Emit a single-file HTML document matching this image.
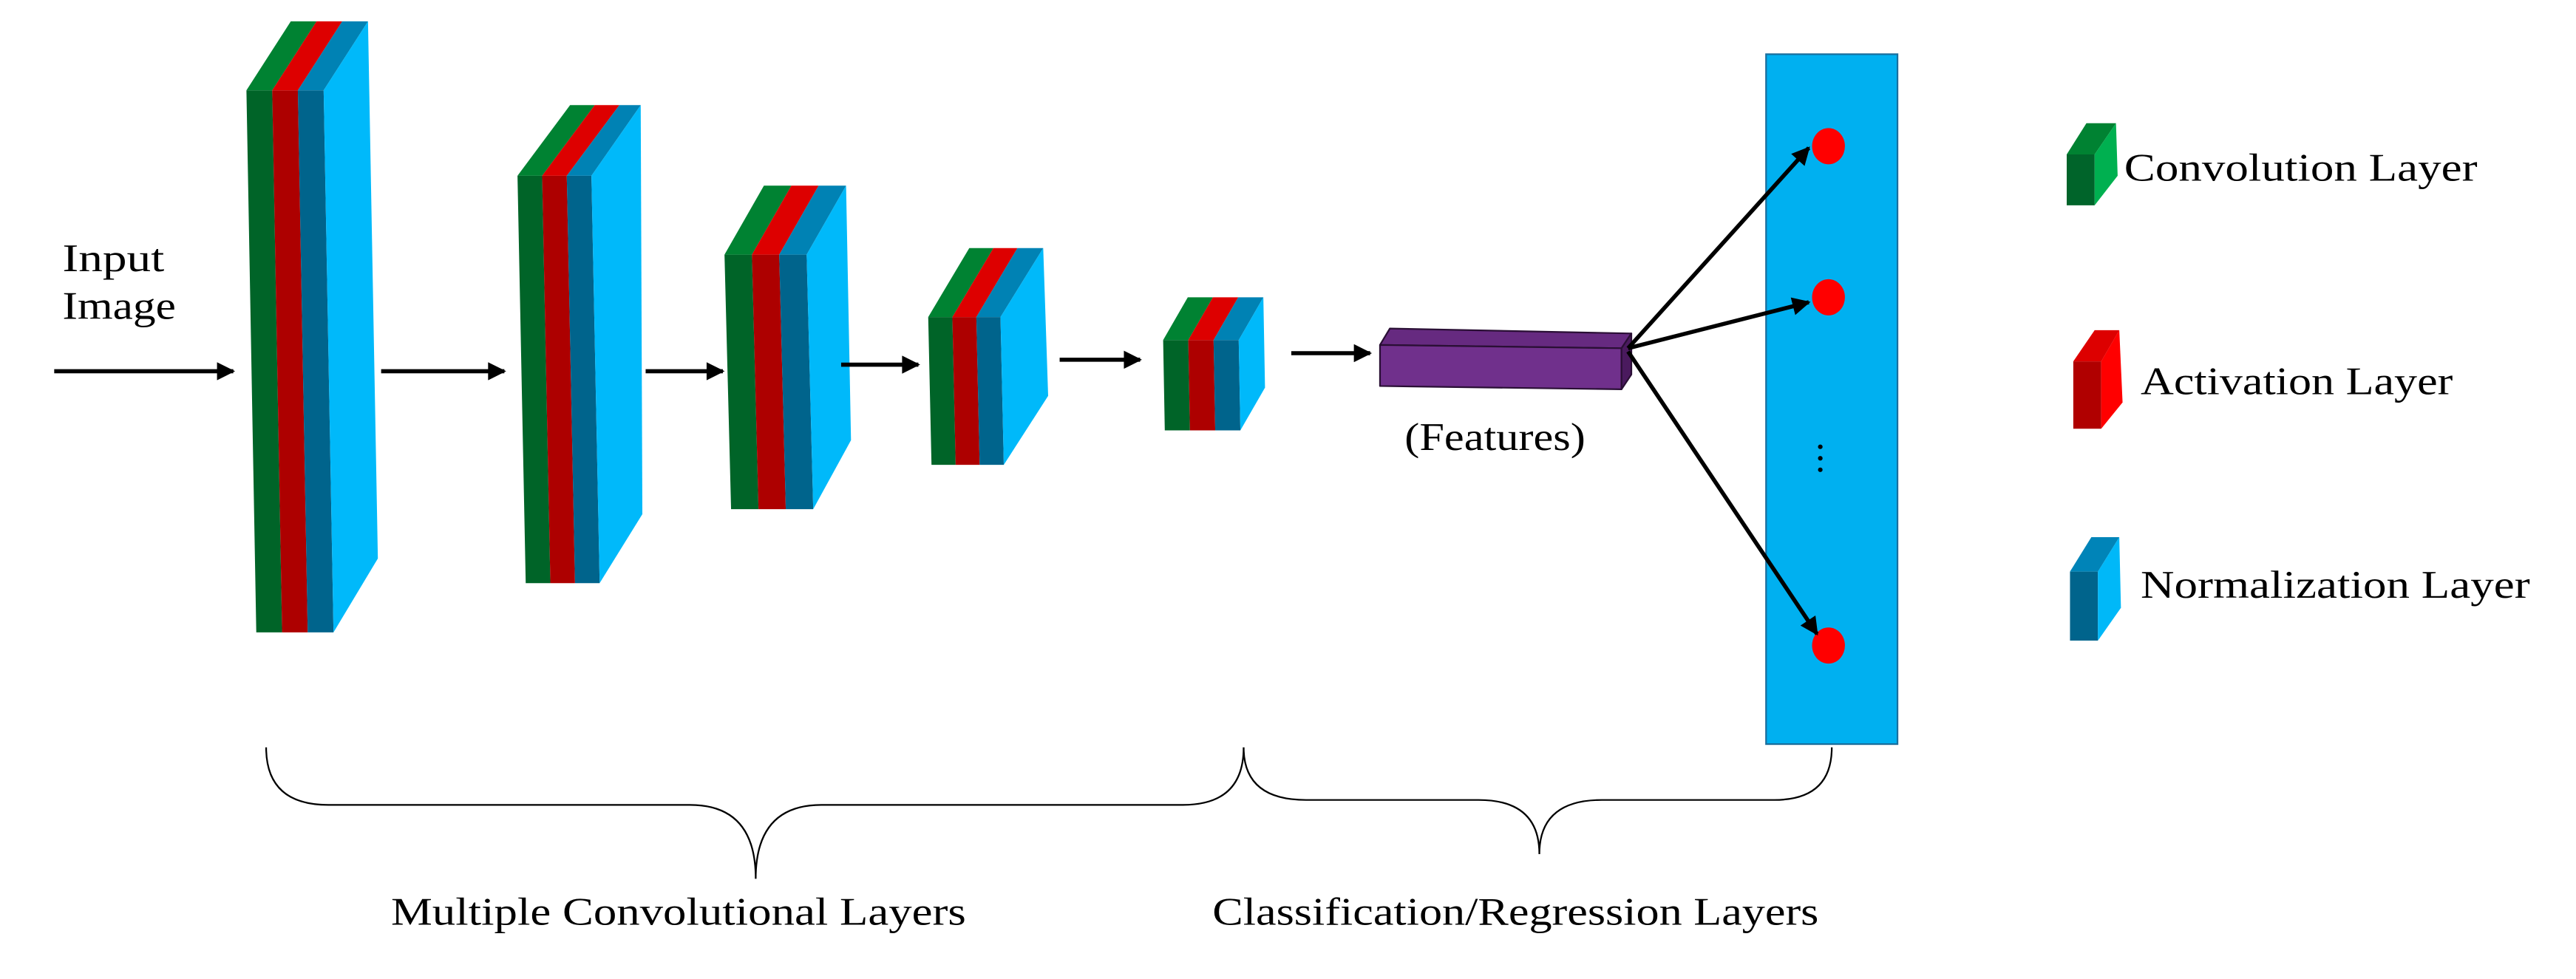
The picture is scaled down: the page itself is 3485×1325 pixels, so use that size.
<!DOCTYPE html>
<html><head><meta charset="utf-8"><style>
html,body{margin:0;padding:0;background:#fff;}
svg{display:block;}
text{font-family:"Liberation Serif",serif;fill:#000;}
</style></head><body>
<svg width="3485" height="1325" viewBox="0 0 1568 596" preserveAspectRatio="none" xmlns="http://www.w3.org/2000/svg">
<defs>
<marker id="ah" viewBox="0 0 10 10" refX="9" refY="5" markerWidth="5" markerHeight="4.4" orient="auto" markerUnits="strokeWidth">
<path d="M0,0 L10,5 L0,10 Z" fill="#000"/></marker>
</defs>
<rect width="1568" height="596" fill="#fff"/>

<text x="38" y="165" font-size="24" textLength="62" lengthAdjust="spacingAndGlyphs">Input</text>
<text x="38" y="194" font-size="24" textLength="69" lengthAdjust="spacingAndGlyphs">Image</text>
<line x1="33" y1="226" x2="142" y2="226" stroke="#000" stroke-width="2.5" marker-end="url(#ah)"/>

<g>
<polygon points="150,55 165.7,55 171.7,385 156,385" fill="#006428"/>
<polygon points="165.7,55 181.3,55 187.3,385 171.7,385" fill="#ad0000"/>
<polygon points="181.3,55 197,55 203,385 187.3,385" fill="#00648c"/>
<polygon points="150,55 177,13 192.7,13 165.7,55" fill="#008232"/>
<polygon points="165.7,55 192.7,13 208.3,13 181.3,55" fill="#dd0000"/>
<polygon points="181.3,55 208.3,13 224,13 197,55" fill="#0082b4"/>
<polygon points="197,55 224,13 230,340 203,385" fill="#00b9fa"/>
</g>
<line x1="232" y1="226" x2="307" y2="226" stroke="#000" stroke-width="2.5" marker-end="url(#ah)"/>

<g>
<polygon points="315,107 330,107 335,355 320,355" fill="#006428"/>
<polygon points="330,107 345,107 350,355 335,355" fill="#ad0000"/>
<polygon points="345,107 360,107 365,355 350,355" fill="#00648c"/>
<polygon points="315,107 347,64 362,64 330,107" fill="#008232"/>
<polygon points="330,107 362,64 377,64 345,107" fill="#dd0000"/>
<polygon points="345,107 377,64 390,64 360,107" fill="#0082b4"/>
<polygon points="360,107 390,64 391,313 365,355" fill="#00b9fa"/>
</g>
<line x1="393" y1="226" x2="440" y2="226" stroke="#000" stroke-width="2.5" marker-end="url(#ah)"/>

<g>
<polygon points="441,155 457.7,155 461.7,310 445,310" fill="#006428"/>
<polygon points="457.7,155 474.3,155 478.3,310 461.7,310" fill="#ad0000"/>
<polygon points="474.3,155 491,155 495,310 478.3,310" fill="#00648c"/>
<polygon points="441,155 465,113 481.7,113 457.7,155" fill="#008232"/>
<polygon points="457.7,155 481.7,113 498.3,113 474.3,155" fill="#dd0000"/>
<polygon points="474.3,155 498.3,113 515,113 491,155" fill="#0082b4"/>
<polygon points="491,155 515,113 518,268 495,310" fill="#00b9fa"/>
</g>
<line x1="512" y1="222" x2="559" y2="222" stroke="#000" stroke-width="2.5" marker-end="url(#ah)"/>

<g>
<polygon points="565,193 579.7,193 581.7,283 567,283" fill="#006428"/>
<polygon points="579.7,193 594.3,193 596.3,283 581.7,283" fill="#ad0000"/>
<polygon points="594.3,193 609,193 611,283 596.3,283" fill="#00648c"/>
<polygon points="565,193 590,151 604.7,151 579.7,193" fill="#008232"/>
<polygon points="579.7,193 604.7,151 619.3,151 594.3,193" fill="#dd0000"/>
<polygon points="594.3,193 619.3,151 635,151 609,193" fill="#0082b4"/>
<polygon points="609,193 635,151 638,241 611,283" fill="#00b9fa"/>
</g>
<line x1="645" y1="219" x2="694" y2="219" stroke="#000" stroke-width="2.5" marker-end="url(#ah)"/>

<g>
<polygon points="708,207 723.3,207 724.3,262 709,262" fill="#006428"/>
<polygon points="723.3,207 738.7,207 739.7,262 724.3,262" fill="#ad0000"/>
<polygon points="738.7,207 754,207 755,262 739.7,262" fill="#00648c"/>
<polygon points="708,207 723,181 738.3,181 723.3,207" fill="#008232"/>
<polygon points="723.3,207 738.3,181 753.7,181 738.7,207" fill="#dd0000"/>
<polygon points="738.7,207 753.7,181 769,181 754,207" fill="#0082b4"/>
<polygon points="754,207 769,181 770,236 755,262" fill="#00b9fa"/>
</g>
<line x1="786" y1="215" x2="834" y2="215" stroke="#000" stroke-width="2.5" marker-end="url(#ah)"/>

<g stroke="#2a0f35" stroke-width="1" stroke-linejoin="round">
<polygon points="840,210 846,200 993,203 987,212" fill="#662a80"/>
<polygon points="840,210 987,212 987,237 840,235" fill="#70308c"/>
<polygon points="987,212 993,203 993,228 987,237" fill="#4a1a5e"/>
</g>
<text x="855" y="274" font-size="24" textLength="110" lengthAdjust="spacingAndGlyphs">(Features)</text>

<rect x="1075" y="33" width="80" height="420" fill="#00b0f0" stroke="#1a6e9c" stroke-width="1"/>
<ellipse cx="1113" cy="89" rx="10" ry="11" fill="#ff0000"/>
<ellipse cx="1113" cy="181" rx="10" ry="11" fill="#ff0000"/>
<ellipse cx="1113" cy="393" rx="10" ry="11" fill="#ff0000"/>
<circle cx="1108" cy="272" r="1.4" fill="#000"/>
<circle cx="1108" cy="279" r="1.4" fill="#000"/>
<circle cx="1108" cy="286" r="1.4" fill="#000"/>
<line x1="991" y1="212" x2="1101" y2="90" stroke="#000" stroke-width="2.5" marker-end="url(#ah)"/>
<line x1="991" y1="212" x2="1101" y2="184" stroke="#000" stroke-width="2.5" marker-end="url(#ah)"/>
<line x1="991" y1="214" x2="1106" y2="386" stroke="#000" stroke-width="2.5" marker-end="url(#ah)"/>

<polygon points="1258,94 1275,94 1275,125 1258,125" fill="#00642a"/>
<polygon points="1258,94 1270,75 1288,75 1275,94" fill="#008232"/>
<polygon points="1275,94 1288,75 1289,107 1275,125" fill="#00b050"/>
<text x="1293" y="110" font-size="24" textLength="215" lengthAdjust="spacingAndGlyphs">Convolution Layer</text>

<polygon points="1262,220 1279,220 1279,261 1262,261" fill="#b00000"/>
<polygon points="1262,220 1275,201 1290,201 1279,220" fill="#dd0000"/>
<polygon points="1279,220 1290,201 1292,245 1279,261" fill="#ff0000"/>
<text x="1303" y="240" font-size="24" textLength="190" lengthAdjust="spacingAndGlyphs">Activation Layer</text>

<polygon points="1260,348 1277,348 1277,390 1260,390" fill="#00648c"/>
<polygon points="1260,348 1273,327 1290,327 1277,348" fill="#0084b8"/>
<polygon points="1277,348 1290,327 1291,370 1277,390" fill="#00b8f8"/>
<text x="1303" y="364" font-size="24" textLength="237" lengthAdjust="spacingAndGlyphs">Normalization Layer</text>

<path d="M162,455 Q162,490 200,490 L420,490 Q460,490 460,535 Q460,490 500,490 L720,490 Q757,490 757,455" fill="none" stroke="#000" stroke-width="1"/>
<path d="M757,455 Q757,487 795,487 L900,487 Q937,487 937,520 Q937,487 975,487 L1080,487 Q1115,487 1115,455" fill="none" stroke="#000" stroke-width="1"/>
<text x="238" y="563" font-size="24" textLength="350" lengthAdjust="spacingAndGlyphs">Multiple Convolutional Layers</text>
<text x="738" y="563" font-size="24" textLength="369" lengthAdjust="spacingAndGlyphs">Classification/Regression Layers</text>
</svg>
</body></html>
